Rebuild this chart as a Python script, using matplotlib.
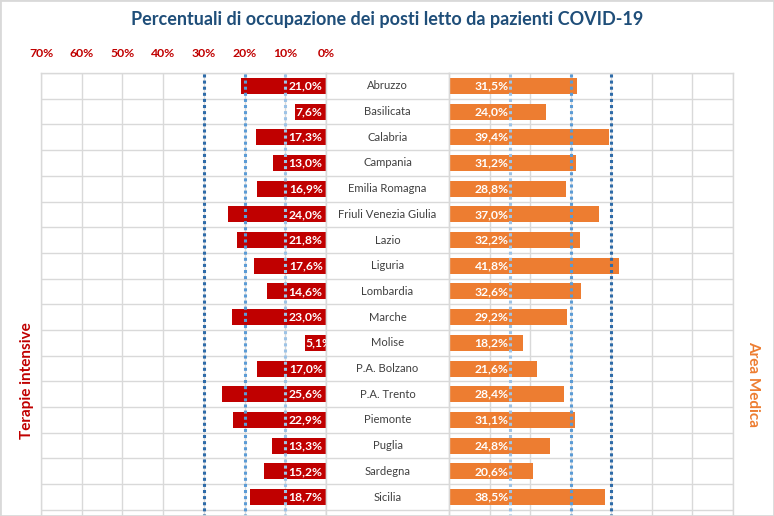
import matplotlib.pyplot as plt
from matplotlib.patches import Rectangle

plt.rcParams['font.family'] = ['Lato', 'DejaVu Sans']

regioni = ["Abruzzo", "Basilicata", "Calabria", "Campania", "Emilia Romagna",
           "Friuli Venezia Giulia", "Lazio", "Liguria", "Lombardia", "Marche",
           "Molise", "P.A. Bolzano", "P.A. Trento", "Piemonte", "Puglia",
           "Sardegna", "Sicilia"]
terapie_intensive = [21.0, 7.6, 17.3, 13.0, 16.9, 24.0, 21.8, 17.6, 14.6, 23.0,
                     5.1, 17.0, 25.6, 22.9, 13.3, 15.2, 18.7]
area_medica = [31.5, 24.0, 39.4, 31.2, 28.8, 37.0, 32.2, 41.8, 32.6, 29.2,
               18.2, 21.6, 28.4, 31.1, 24.8, 20.6, 38.5]
soglie_ti = [10, 20, 30]
soglie_am = [15, 30, 40]
tick_pct = [0, 10, 20, 30, 40, 50, 60, 70]

ROSSO = '#C00000'
ARANCIO = '#ED7D31'
GRIGIO = '#D9D9D9'
BLU = ['#9DC3E6', '#5B9BD5', '#2E6BA8']

W, H = 774, 516
top = 73
row_h = 25.7
n_rows = 21  # the picture is cut off below Sicilia
ax_h = n_rows * row_h
bottom = (H - top - ax_h) / H

fig = plt.figure(figsize=(W / 100, H / 100), dpi=100)
fig.patches.append(Rectangle((0, 0), 1, 1, transform=fig.transFigure,
                             fill=False, edgecolor=GRIGIO, lw=2))

ax_l = fig.add_axes([41 / W, bottom, 285 / W, ax_h / H])
ax_m = fig.add_axes([326 / W, bottom, 123 / W, ax_h / H])
ax_r = fig.add_axes([449 / W, bottom, 284 / W, ax_h / H])

y = list(range(len(regioni)))
bordi = [k - 0.5 for k in range(n_rows + 1)]


def fmt(v):
    return f"{v:.1f}%".replace('.', ',')


for ax in (ax_l, ax_m, ax_r):
    ax.set_ylim(n_rows - 0.5, -0.5)
    ax.set_yticks(bordi)
    ax.set_yticklabels([])
    ax.tick_params(axis='both', length=0)
    ax.grid(True, color=GRIGIO, lw=1)
    ax.set_axisbelow(True)
    for s in ax.spines.values():
        s.set_color(GRIGIO)
        s.set_linewidth(1)

# terapie intensive
ax_l.set_xlim(70, 0)
ax_l.set_xticks(tick_pct)
ax_l.xaxis.tick_top()
ax_l.set_xticklabels([f"{t}%" for t in tick_pct], color=ROSSO,
                     fontweight='bold', fontsize=8.8)
ax_l.tick_params(axis='x', pad=10)
ax_l.barh(y, terapie_intensive, height=0.62, color=ROSSO, zorder=2)
for yi, v in zip(y, terapie_intensive):
    if v < 7:
        # short bar: label starts at the bar end and is cut at 0%
        ax_l.text(v, yi, fmt(v), ha='left', va='center', color='white',
                  fontweight='bold', fontsize=8.7, zorder=3, clip_on=True)
    else:
        ax_l.text(0.8, yi, fmt(v), ha='right', va='center', color='white',
                  fontweight='bold', fontsize=8.7, zorder=3)
for s, c in zip(soglie_ti, BLU):
    ax_l.axvline(s, color=c, lw=2.2, ls=(0, (1, 1)), zorder=4)

# nomi regioni
ax_m.set_xlim(0, 1)
ax_m.set_xticks([])
for yi, r in zip(y, regioni):
    ax_m.text(0.5, yi, r, ha='center', va='center', color='#404040', fontsize=8.1)

# area medica
ax_r.set_xlim(0, 70)
ax_r.set_xticks(tick_pct)
ax_r.set_xticklabels([])
ax_r.barh(y, area_medica, height=0.62, color=ARANCIO, zorder=2)
for yi, v in zip(y, area_medica):
    ax_r.text(10.5, yi, fmt(v), ha='center', va='center', color='white',
              fontweight='bold', fontsize=8.7, zorder=3)
for s, c in zip(soglie_am, BLU):
    ax_r.axvline(s, color=c, lw=2.2, ls=(0, (1, 1)), zorder=4)

fig.text(0.5, 1 - 20 / H, "Percentuali di occupazione dei posti letto da pazienti COVID-19",
         ha='center', va='center', color='#1F4E79', fontweight='bold', fontsize=13)
fig.text(27 / W, 1 - 381 / H, "Terapie intensive", rotation=90, ha='center',
         va='center', color=ROSSO, fontweight='bold', fontsize=11)
fig.text(753 / W, 1 - 384 / H, "Area Medica", rotation=270, ha='center',
         va='center', color=ARANCIO, fontweight='bold', fontsize=11)

fig.savefig('out.png', dpi=100)
